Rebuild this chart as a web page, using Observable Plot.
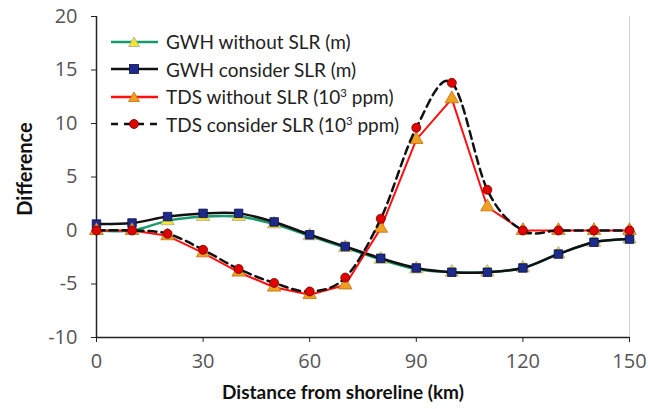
<!DOCTYPE html>
<html><head><meta charset="utf-8">
<script src="https://cdn.jsdelivr.net/npm/d3@7"></script>
<script src="https://cdn.jsdelivr.net/npm/@observablehq/plot@0.6"></script>
<style>
body{margin:0;background:#fff;font-family:"Open Sans",sans-serif;}
#wrap{position:relative;width:648px;height:409px;}
#legend{position:absolute;left:110px;top:28px;font-family:Lato,sans-serif;font-size:19px;color:#222;}
#legend .row{display:flex;align-items:center;height:27.5px;white-space:nowrap;}
#legend svg{margin-right:6px;}
</style></head>
<body><div id="wrap"><div id="legend"></div></div>
<script>
const distance = [0,10,20,30,40,50,60,70,80,90,100,110,120,130,140,150];
const gwhWithout = [0,0,0.9,1.3,1.3,0.6,-0.5,-1.6,-2.7,-3.6,-3.9,-3.9,-3.5,-2.2,-1.1,-0.8];
const gwhConsider = [0.6,0.7,1.3,1.6,1.6,0.8,-0.4,-1.5,-2.6,-3.5,-3.9,-3.9,-3.5,-2.2,-1.1,-0.8];
const tdsWithout = [0,0,-0.5,-2.1,-3.9,-5.3,-6.0,-5.1,0.2,8.5,12.3,2.2,0,0,0,0];
const tdsConsider = [0,0,-0.3,-1.8,-3.6,-4.9,-5.7,-4.4,1.1,9.6,13.8,3.8,0,0,0,0];
const xTicks = [0,30,60,90,120,150];
const yTicks = [-10,-5,0,5,10,15,20];
const seriesNames = ["GWH without SLR (m)","GWH consider SLR (m)","TDS without SLR (10³ ppm)","TDS consider SLR (10³ ppm)"];

const toRows = vals => distance.map((d,i)=>({x:d,y:vals[i]}));
const gW = toRows(gwhWithout), gC = toRows(gwhConsider), tW = toRows(tdsWithout), tC = toRows(tdsConsider);

const chart = Plot.plot({
  width:648, height:409,
  marginLeft:96, marginRight:19, marginTop:16, marginBottom:72,
  style:{fontFamily:"Open Sans, sans-serif", background:"#fff", overflow:"visible"},
  x:{domain:[0,150]},
  y:{domain:[-10,20]},
  marks:[
    Plot.ruleX([150],{stroke:"#d0d0d0", strokeWidth:1}),
    Plot.axisY({ticks:yTicks, tickSize:5, tickPadding:14, fontSize:20, color:"#555", stroke:"#222", label:null, tickFormat:d=>d<0?"-"+Math.abs(d):String(d)}),
    Plot.axisX({ticks:xTicks, tickSize:5, tickPadding:11, fontSize:20, color:"#555", stroke:"#222", label:null}),
    Plot.ruleX([0],{stroke:"#222", strokeWidth:1.5}),
    Plot.ruleY([-10],{stroke:"#222", strokeWidth:1.5}),
    Plot.text(["Difference"],{frameAnchor:"left", textAnchor:"middle", dx:-71, dy:-8, rotate:-90, fontSize:20, fontFamily:"Lato", fontWeight:"bold", fill:"#111"}),
    Plot.text(["Distance from shoreline (km)"],{frameAnchor:"bottom", textAnchor:"middle", dx:-20, dy:61, fontSize:19, fontFamily:"Lato", fontWeight:"bold", fill:"#111"}),
    Plot.line(gW,{x:"x",y:"y",stroke:"#1a9a6c",strokeWidth:2.5,curve:"cardinal"}),
    Plot.dot(gW,{x:"x",y:"y",symbol:"triangle",r:5,fill:"#f2e530",stroke:"#b0a890",strokeWidth:0.8}),
    Plot.line(gC,{x:"x",y:"y",stroke:"#111",strokeWidth:2.5,curve:"cardinal"}),
    Plot.dot(gC,{x:"x",y:"y",symbol:"square",r:4.8,fill:"#1c2a8c",stroke:"#0a1040",strokeWidth:0.8}),
    Plot.line(tW,{x:"x",y:"y",stroke:"#ff1010",strokeWidth:2}),
    Plot.dot(tW,{x:"x",y:"y",symbol:"triangle",r:5,fill:"#f0a020",stroke:"#c07010",strokeWidth:0.8}),
    Plot.line(tC,{x:"x",y:"y",stroke:"#111",strokeWidth:2.5,strokeDasharray:"8,5",curve:"cardinal"}),
    Plot.dot(tC,{x:"x",y:"y",symbol:"circle",r:4.5,fill:"#e00000",stroke:"#700000",strokeWidth:0.8})
  ]
});
document.getElementById("wrap").prepend(chart);

const legendSpecs = [
  {stroke:"#1a9a6c", dash:null, sym:"tri", fill:"#f2e530", st:"#b0a890"},
  {stroke:"#111", dash:null, sym:"sq", fill:"#1c2a8c", st:"#0a1040"},
  {stroke:"#ff1010", dash:null, sym:"tri", fill:"#f0a020", st:"#c07010"},
  {stroke:"#111", dash:"7,6", sym:"circ", fill:"#e00000", st:"#700000"}
];
const leg = document.getElementById("legend");
legendSpecs.forEach((s,i)=>{
  const row = document.createElement("div"); row.className="row";
  let sym;
  if(s.sym==="tri") sym = `<path d="M24,5 L29.5,14.5 L18.5,14.5 Z" fill="${s.fill}" stroke="${s.st}" stroke-width="0.8"/>`;
  else if(s.sym==="sq") sym = `<rect x="19.5" y="5.5" width="9" height="9" fill="${s.fill}" stroke="${s.st}" stroke-width="0.8"/>`;
  else sym = `<circle cx="24" cy="10" r="4.5" fill="${s.fill}" stroke="${s.st}" stroke-width="0.8"/>`;
  row.innerHTML = `<svg width="50" height="20"><line x1="1" x2="48" y1="10" y2="10" stroke="${s.stroke}" stroke-width="2.5" ${s.dash?`stroke-dasharray="${s.dash}"`:""}/>${sym}</svg><span>${seriesNames[i].replace("10³","10<sup style='font-size:0.6em;line-height:0'>3</sup>")}</span>`;
  leg.appendChild(row);
});
</script></body></html>
